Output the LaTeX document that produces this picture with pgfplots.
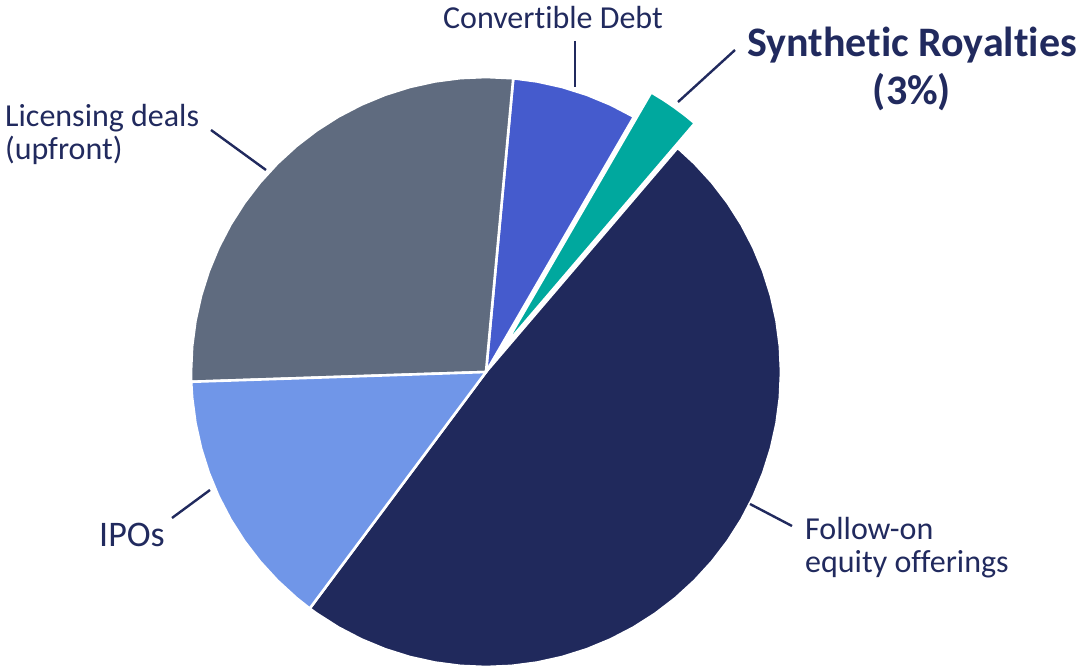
\documentclass[border=0pt]{standalone}
\usepackage{pgfplots}
\pgfplotsset{compat=1.18}
\usepackage{fontspec}
\setmainfont{Carlito}[Ligatures={NoCommon}]
\definecolor{cgray}{RGB}{95,107,127}
\definecolor{cconv}{RGB}{69,91,205}
\definecolor{cteal}{RGB}{0,168,158}
\definecolor{cnavy}{RGB}{32,41,92}
\definecolor{cipo}{RGB}{112,150,232}
\definecolor{ctext}{RGB}{33,42,94}
\begin{document}
\begin{tikzpicture}
\begin{axis}[
  x=1pt, y=1pt,
  xmin=-486, xmax=598, ymin=-298, ymax=372,
  hide axis, clip=false,
  every axis plot/.append style={line join=round},
]
\addplot[draw=none, forget plot] coordinates {(-486,-298) (598,372)};
% Follow-on equity offerings
\addplot[data cs=polar, fill=cnavy, draw=white, line width=2.6pt] coordinates {
 (0,0) (-126.7,295) (-125,295) (-120,295) (-115,295) (-110,295) (-105,295) (-100,295)
 (-95,295) (-90,295) (-85,295) (-80,295) (-75,295) (-70,295) (-65,295) (-60,295)
 (-55,295) (-50,295) (-45,295) (-40,295) (-35,295) (-30,295) (-25,295) (-20,295)
 (-15,295) (-10,295) (-5,295) (0,295) (5,295) (10,295) (15,295) (20,295) (25,295)
 (30,295) (35,295) (40,295) (45,295) (49.5,295) (0,0)} -- cycle;
% Synthetic Royalties (exploded)
\addplot[data cs=polar, fill=cteal, draw=white, line width=2.6pt, xshift=17.3pt, yshift=24.5pt] coordinates {
 (0,0) (49.5,295) (52,295) (54.7,295) (57,295) (59.9,295) (0,0)} -- cycle;
% Convertible Debt
\addplot[data cs=polar, fill=cconv, draw=white, line width=2.6pt] coordinates {
 (0,0) (59.9,295) (65,295) (70,295) (75,295) (80,295) (84.7,295) (0,0)} -- cycle;
% Licensing deals
\addplot[data cs=polar, fill=cgray, draw=white, line width=2.6pt] coordinates {
 (0,0) (84.7,295) (90,295) (95,295) (100,295) (105,295) (110,295) (115,295) (120,295)
 (125,295) (130,295) (135,295) (140,295) (145,295) (150,295) (155,295) (160,295)
 (165,295) (170,295) (175,295) (180,295) (181.9,295) (0,0)} -- cycle;
% IPOs
\addplot[data cs=polar, fill=cipo, draw=white, line width=2.6pt] coordinates {
 (0,0) (181.9,295) (185,295) (190,295) (195,295) (200,295) (205,295) (210,295)
 (215,295) (220,295) (225,295) (230,295) (233.3,295) (0,0)} -- cycle;
% leader lines
\addplot[ctext, line width=2.4pt] coordinates {(89,331) (89,285)};
\addplot[ctext, line width=2.4pt] coordinates {(249,322) (192,270)};
\addplot[ctext, line width=2.4pt] coordinates {(-275,242) (-220,202)};
\addplot[ctext, line width=2.4pt] coordinates {(-314,-146) (-276,-118)};
\addplot[ctext, line width=2.4pt] coordinates {(264,-132) (306,-154)};
% labels
\node[anchor=base, text=ctext, inner sep=0pt, font=\fontsize{32}{34}\selectfont] at (axis cs:67,343) {Convertible Debt};
\node[anchor=base, text=ctext, inner sep=0pt, font=\fontsize{42}{46}\selectfont\bfseries] at (axis cs:426,315) {Synthetic Royalties};
\node[anchor=base, text=ctext, inner sep=0pt, font=\fontsize{42}{46}\selectfont\bfseries] at (axis cs:426,267) {(3\%)};
\node[anchor=base west, text=ctext, inner sep=0pt, font=\fontsize{32}{34}\selectfont] at (axis cs:-481,245) {Licensing deals};
\node[anchor=base west, text=ctext, inner sep=0pt, font=\fontsize{32}{34}\selectfont] at (axis cs:-481,212) {(upfront)};
\node[anchor=base west, text=ctext, inner sep=0pt, font=\fontsize{36}{40}\selectfont] at (axis cs:-387,-174) {IPOs};
\node[anchor=base west, text=ctext, inner sep=0pt, font=\fontsize{32}{34}\selectfont] at (axis cs:319,-167) {Follow-on};
\node[anchor=base west, text=ctext, inner sep=0pt, font=\fontsize{32}{34}\selectfont] at (axis cs:319,-200) {equity offerings};
\end{axis}
\end{tikzpicture}
\end{document}
